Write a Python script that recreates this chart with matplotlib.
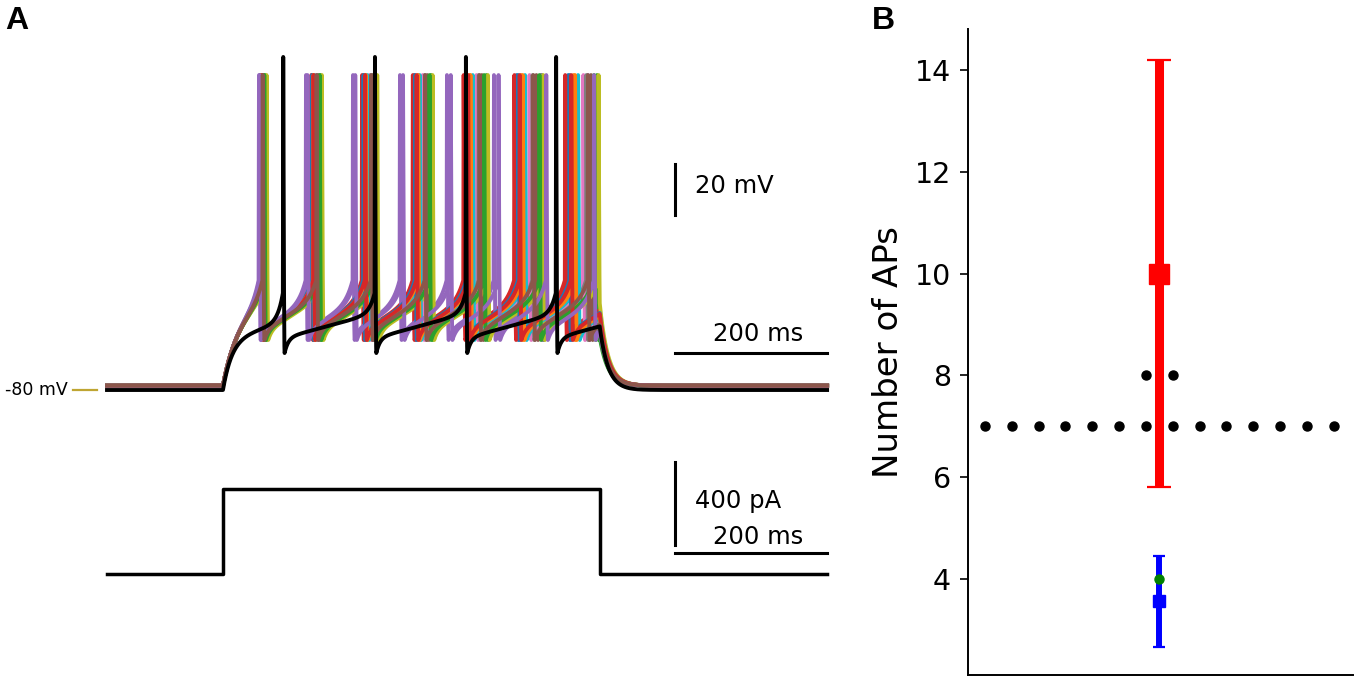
import numpy as np
import matplotlib
matplotlib.use("Agg")
import matplotlib.pyplot as plt

# ---------------- data ----------------
# current-step protocol (ms, pA)
t_end = 950.0
step_on = 153.0
step_off = 650.0
step_amp = 410.0
protocol_t = [0.0, step_on, step_on, step_off, step_off, t_end]
protocol_i = [0.0, 0.0, step_amp, step_amp, 0.0, 0.0]

# spike times (ms) of the 16 model trials (coloured traces)
trial_spikes = [
    [203, 270, 338, 405, 473, 540, 608],
    [204, 272, 341, 410, 478, 546, 615],
    [208, 281, 354, 427, 500, 573, 646],
    [202, 269, 336, 403, 470, 537, 604],
    [200, 262, 324, 386, 448, 510, 572, 634],
    [206, 278, 350, 422, 494, 566, 638],
    [205, 275, 346, 416, 487, 557, 628],
    [206, 277, 348, 419, 490, 561, 632],
    [210, 283, 356, 429, 502, 575, 648],
    [204, 273, 343, 412, 482, 551, 621],
    [202, 270, 338, 406, 474, 542, 610],
    [203, 272, 341, 410, 479, 548, 617],
    [207, 280, 352, 425, 497, 570, 642],
    [204, 272, 340, 408, 476, 544, 612],
    [201, 264, 327, 390, 453, 516, 579, 642],
    [205, 276, 348, 419, 491, 562, 634],
]
# spike times (ms) of the black (recorded) trace
black_spikes = [232, 353, 473, 592]

# membrane levels (mV)
trial_rest, trial_peak, trial_trough = -78.3, 43.5, -60.4
black_rest, black_peak, black_trough = -80.0, 50.6, -65.5

# panel B
exp_mean, exp_sd = 10.0, 4.2
model2_mean, model2_sd = 3.56, 0.89
black_count = len(black_spikes)
trial_counts = [len(s) for s in trial_spikes]

# scale bars
bar_mv, bar_ms, bar_pa = 20, 200, 400

# ---------------- helpers ----------------
def make_trace(t, spikes, rest, peak, trough, thr, first_level, tau_first,
               rec_level, tau_rec, slope, tau_up, tau_off, down_dur=1.8):
    v = np.full_like(t, rest)
    starts = [(step_on, rest, first_level, tau_first)]
    up_dur = 0.5
    for s in spikes:
        starts.append((s + up_dur + down_dur, trough, rec_level, tau_rec))
    ends = list(spikes) + [step_off]
    for k, ((a, v0, vt, tau), b) in enumerate(zip(starts, ends)):
        b_eff = min(b, step_off)
        m = (t >= a) & (t < b_eff)
        tt = t[m] - a
        base = v0 + (vt - v0) * (1 - np.exp(-tt / tau)) + slope * tt
        if k < len(spikes):
            tb = b - a
            base_b = v0 + (vt - v0) * (1 - np.exp(-tb / tau)) + slope * tb
            base = base + (thr - base_b) * np.exp((t[m] - b) / tau_up)
        v[m] = base
    for s in spikes:
        m1 = (t >= s) & (t < s + up_dur)
        v[m1] = thr + (peak - thr) * (t[m1] - s) / up_dur
        m2 = (t >= s + up_dur) & (t < s + up_dur + down_dur)
        ph = (t[m2] - s - up_dur) / down_dur
        v[m2] = peak + (trough - peak) * np.sin(ph * np.pi / 2)
    idx = np.searchsorted(t, step_off) - 1
    v_off = v[idx]
    m = t >= step_off
    v[m] = rest + (v_off - rest) * np.exp(-(t[m] - step_off) / tau_off)
    return v

t = np.arange(0.0, t_end + 0.025, 0.05)

# ---------------- figure ----------------
W, H = 1355, 680
fig = plt.figure(figsize=(W / 100, H / 100), dpi=100)

px_per_ms = 0.758
t0_px = 107
def tx(px):
    return (px - t0_px) / px_per_ms

xlim = (tx(0), tx(860))

# voltage axes (px y 30..420)
axv = fig.add_axes([0, 1 - 420 / H, 860 / W, 390 / H])
px_per_mv = 2.55
def vy(py):
    return -80 + (390 - py) / px_per_mv
axv.set_xlim(*xlim)
axv.set_ylim(vy(420), vy(30))
axv.axis("off")

colors = plt.rcParams["axes.prop_cycle"].by_key()["color"]
for i, sp in enumerate(trial_spikes):
    v = make_trace(t, sp, trial_rest, trial_peak, trial_trough, thr=-37,
                   first_level=-54, tau_first=18, rec_level=-56.5, tau_rec=5,
                   slope=0.18, tau_up=9, tau_off=11, down_dur=2.2)
    axv.plot(t, v, color=colors[i % 10], lw=2.8, solid_joinstyle="round")
vb = make_trace(t, black_spikes, black_rest, black_peak, black_trough, thr=-42,
                first_level=-60, tau_first=12, rec_level=-59.5, tau_rec=5,
                slope=0.08, tau_up=7, tau_off=11)
axv.plot(t, vb, color="black", lw=2.8)

tb = tx(675)
axv.plot([tb, tb], [vy(215), vy(215) + bar_mv], color="black", lw=2.2)
axv.text(tx(695), vy(193), f"{bar_mv} mV", fontsize=17.5, ha="left", va="baseline")
axv.plot([tb, tb + bar_ms], [vy(352.5), vy(352.5)], color="black", lw=2.2)
axv.text(tx(713), vy(341), f"{bar_ms} ms", fontsize=17.5, ha="left", va="baseline")
axv.plot([tx(73), tx(97)], [-80, -80], color="#bfa532", lw=1.6)
axv.text(tx(68), -80, "-80 mV", fontsize=12.5, ha="right", va="center")

# current axes (px y 440..600)
axi = fig.add_axes([0, 1 - 600 / H, 860 / W, 160 / H])
px_per_pa = 83 / 400
def iy(py):
    return (574 - py) / px_per_pa
axi.set_xlim(*xlim)
axi.set_ylim(iy(600), iy(440))
axi.axis("off")
axi.plot(protocol_t, protocol_i, color="black", lw=2.5)
axi.plot([tb, tb], [iy(545), iy(545) + bar_pa], color="black", lw=2.2)
axi.text(tx(695), iy(508), f"{bar_pa} pA", fontsize=17.5, ha="left", va="baseline")
axi.plot([tb, tb + bar_ms], [iy(553), iy(553)], color="black", lw=2.2)
axi.text(tx(713), iy(544), f"{bar_ms} ms", fontsize=17.5, ha="left", va="baseline")

# ---------------- panel B ----------------
axb = fig.add_axes([968 / W, 1 - 675 / H, (1353 - 968) / W, (675 - 29) / H])
center = 6.5
vals = np.array(trial_counts)
xs, ys = [], []
for u in np.unique(vals):
    n = int(np.sum(vals == u))
    pos = center + (np.arange(n) - (n - 1) / 2.0)
    xs.extend(pos)
    ys.extend([u] * n)
axb.plot(xs, ys, "o", color="black", ms=6.5, zorder=2)
axb.errorbar(center, exp_mean, yerr=exp_sd, fmt="s", color="red", ms=15,
             elinewidth=6.5, capsize=8.5, capthick=1.6, zorder=3)
axb.errorbar(center, model2_mean, yerr=model2_sd, fmt="s", color="blue", ms=8.5,
             elinewidth=4.3, capsize=4, capthick=1.6, zorder=3)
axb.plot([center], [black_count], "o", color="green", ms=6.5, zorder=4)
axb.set_xlim(-0.63, 13.72)
axb.set_ylim(2.11, 14.81)
axb.set_yticks([4, 6, 8, 10, 12, 14])
axb.set_xticks([])
axb.tick_params(axis="y", labelsize=20.5, length=5.8, width=1.2, pad=6.5)
for s in ["top", "right"]:
    axb.spines[s].set_visible(False)
for s in ["left", "bottom"]:
    axb.spines[s].set_linewidth(1.4)
axb.set_ylabel("Number of APs", fontsize=24.5)
axb.yaxis.set_label_coords((905 - 968) / (1353 - 968), 0.5)

# panel letters
fig.text(5 / W, 1 - 6 / H, "A", fontsize=23, fontweight="bold",
         family="Liberation Sans", ha="left", va="top")
fig.text(872 / W, 1 - 6 / H, "B", fontsize=23, fontweight="bold",
         family="Liberation Sans", ha="left", va="top")

fig.savefig("out.png", dpi=100)
